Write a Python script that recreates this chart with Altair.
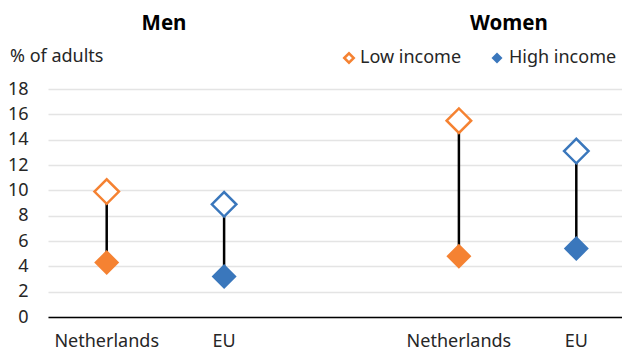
import altair as alt
import pandas as pd

# ---- data ----
groups = ["Men", "Men", "Women", "Women"]
countries = ["Netherlands", "EU", "Netherlands", "EU"]
keys = ["M-NL", "M-EU", "W-NL", "W-EU"]
low_income = [9.9, 8.9, 15.5, 13.1]
high_income = [4.3, 3.2, 4.8, 5.4]
x_domain = ["M-NL", "M-EU", "gap", "W-NL", "W-EU"]
x_labels = ["Netherlands", "EU", "", "Netherlands", "EU"]
y_ticks = [0, 2, 4, 6, 8, 10, 12, 14, 16, 18]
panel_titles = ["Men", "Women"]
legend_labels = ["Low income", "High income"]

ORANGE = "#F58232"
BLUE = "#3A77BC"
FONT = "Noto Sans"
TXT = "#262626"

df = pd.DataFrame({"group": groups, "country": countries, "key": keys,
                   "low": low_income, "high": high_income})

label_map = "{" + ",".join(f"'{k}':'{v}'" for k, v in zip(x_domain, x_labels)) + "}"

xscale = alt.Scale(domain=x_domain, paddingInner=0, paddingOuter=0)
yscale = alt.Scale(domain=[0, 18], nice=False)
cscale = alt.Scale(domain=["Netherlands", "EU"], range=[ORANGE, BLUE])

xaxis = alt.Axis(labelExpr=label_map + "[datum.value]", labelAngle=0, ticks=False,
                 domain=True, domainColor="black", domainWidth=1.5, grid=False,
                 labelFont=FONT, labelFontSize=18, labelColor=TXT, labelPadding=15,
                 title=None, zindex=1)
yaxis = alt.Axis(values=y_ticks, tickCount=10, grid=True, gridColor="#e4e4e4",
                 gridWidth=1.5, domain=False, ticks=False, labelFont=FONT,
                 labelFontSize=18, labelColor=TXT, labelPadding=20,
                 labelOverlap=False, title=None)

base = alt.Chart(df)

X = alt.X("key:N", scale=xscale, axis=xaxis)

rules = base.mark_rule(color="black", strokeWidth=2.5).encode(
    x=X,
    y=alt.Y("low:Q", scale=yscale, axis=yaxis),
    y2="high:Q",
)

low_pts = base.mark_point(shape="diamond", filled=True, fill="white", size=600,
                          strokeWidth=2.5, opacity=1).encode(
    x=X,
    y=alt.Y("low:Q", scale=yscale, axis=yaxis),
    stroke=alt.Stroke("country:N", scale=cscale, legend=None),
)

high_pts = base.mark_point(shape="diamond", filled=True, size=625, opacity=1,
                           strokeWidth=0).encode(
    x=X,
    y=alt.Y("high:Q", scale=yscale, axis=yaxis),
    fill=alt.Fill("country:N", scale=cscale, legend=None),
)

def text_layer(txt, x, y, size=18, bold=False, align="left"):
    return alt.Chart(pd.DataFrame({"t": [txt]})).mark_text(
        font=FONT, fontSize=size, fontWeight="bold" if bold else "normal",
        color="black" if bold else TXT, align=align, baseline="middle",
    ).encode(x=alt.value(x), y=alt.value(y), text="t:N")

title_men = text_layer(panel_titles[0], 116, -65, size=20.5, bold=True, align="center")
title_women = text_layer(panel_titles[1], 461, -65, size=20.5, bold=True, align="center")
y_title = text_layer("% of adults", -38, -32)

leg_df = pd.DataFrame({"t": [legend_labels[0]]})
leg_low = alt.Chart(leg_df).mark_point(shape="diamond", filled=True, fill="white",
                                       stroke=ORANGE, strokeWidth=2.5, size=90,
                                       opacity=1).encode(
    x=alt.value(301), y=alt.value(-31))
leg_high = alt.Chart(leg_df).mark_point(shape="diamond", filled=True, fill=BLUE,
                                        strokeWidth=0, size=121, opacity=1).encode(
    x=alt.value(449), y=alt.value(-31))
leg_low_t = text_layer(legend_labels[0], 312, -31)
leg_high_t = text_layer(legend_labels[1], 461, -31)

chart = alt.layer(
    rules, low_pts, high_pts, title_men, title_women, y_title,
    leg_low, leg_high, leg_low_t, leg_high_t,
).properties(
    width=587, height=228,
    autosize=alt.AutoSizeParams(type="none"),
    padding={"left": 40, "top": 81, "right": -13, "bottom": 33},
).configure_view(stroke=None)

chart.save("out.html", embed_options={"renderer": "svg", "actions": False})
